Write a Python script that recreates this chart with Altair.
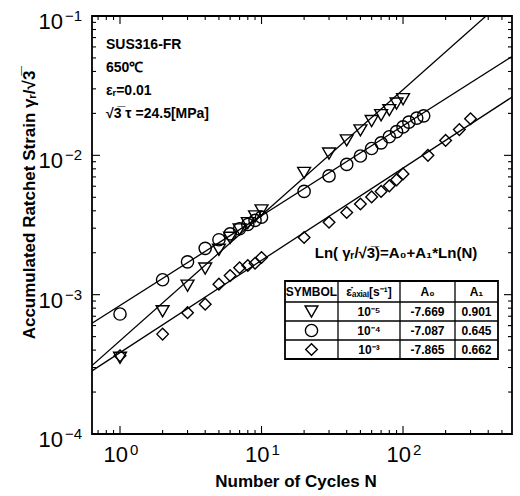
import math

import altair as alt
import pandas as pd

# ---- measured data: number of cycles N and accumulated ratchet strain ----
tri_N = [1, 2, 3, 4, 5, 6, 7, 8, 9, 10, 20, 30, 40, 50, 60, 70, 80, 90, 100]
tri_v = [3.52e-4, 7.60e-4, 1.16e-3, 1.54e-3, 2.10e-3, 2.56e-3, 2.94e-3, 3.26e-3,
         3.64e-3, 4.02e-3, 7.48e-3, 1.03e-2, 1.28e-2, 1.51e-2, 1.76e-2, 1.94e-2,
         2.11e-2, 2.35e-2, 2.53e-2]

cir_N = [1, 2, 3, 4, 5, 6, 7, 8, 9, 10, 20, 30, 40, 50, 60, 70, 80, 90, 100, 110, 125, 140]
cir_v = [7.26e-4, 1.28e-3, 1.72e-3, 2.15e-3, 2.48e-3, 2.73e-3, 2.97e-3, 3.19e-3,
         3.41e-3, 3.60e-3, 5.51e-3, 7.12e-3, 8.61e-3, 9.89e-3, 1.12e-2, 1.23e-2,
         1.36e-2, 1.48e-2, 1.60e-2, 1.73e-2, 1.85e-2, 1.92e-2]

dia_N = [1, 2, 3, 4, 5, 6, 7, 8, 9, 10, 20, 30, 40, 50, 60, 70, 80, 90, 100, 150, 200, 250, 300]
dia_v = [3.64e-4, 5.21e-4, 7.43e-4, 8.55e-4, 1.19e-3, 1.37e-3, 1.56e-3, 1.62e-3,
         1.68e-3, 1.85e-3, 2.57e-3, 3.31e-3, 3.89e-3, 4.47e-3, 5.03e-3, 5.51e-3,
         6.04e-3, 6.67e-3, 7.36e-3, 1.00e-2, 1.28e-2, 1.53e-2, 1.83e-2]

# ---- regression table: Ln(g/sqrt3) = A0 + A1*Ln(N) ----
series_keys = ["tri", "cir", "dia"]
rate_labels = ["10⁻⁵", "10⁻⁴", "10⁻³"]
fit_A0 = [-7.669, -7.087, -7.865]
fit_A1 = [0.901, 0.645, 0.662]
table_header = ["SYMBOL", "ε̇ₐₓᵢₐₗ[s⁻¹]", "A₀", "A₁"]

# ---- axis ticks and labels ----
x_major = [1, 10, 100]
x_exp = ["0", "1", "2"]
x_minor = [0.7, 0.8, 0.9, 2, 3, 4, 5, 6, 7, 8, 9,
           20, 30, 40, 50, 60, 70, 80, 90, 200, 300, 400, 500]
y_major = [1e-1, 1e-2, 1e-3, 1e-4]
y_exp = ["−1", "−2", "−3", "−4"]
y_minor = [2e-4, 3e-4, 4e-4, 5e-4, 6e-4, 7e-4, 8e-4, 9e-4,
           2e-3, 3e-3, 4e-3, 5e-3, 6e-3, 7e-3, 8e-3, 9e-3,
           2e-2, 3e-2, 4e-2, 5e-2, 6e-2, 7e-2, 8e-2, 9e-2]
x_title = "Number of Cycles  N"
y_title = "Accumulated Ratchet Strain  γᵣ/√3̅"

# ---- annotation text ----
cond_lines = ["SUS316-FR", "650℃", "εᵣ=0.01", "√3̅ τ =24.5[MPa]"]
equation = "Ln( γᵣ/√3̅)=A₀+A₁*Ln(N)"

# ---- layout ----
W, H = 420, 418
FONT = "Liberation Sans"
X_LO, X_HI = 0.634, 589
shapes = ["triangle-down", "circle", "diamond"]
sizes = [165, 135, 190]
tbl_cols = [193, 246, 308, 363, 406]
tbl_rows = [265, 286, 305, 324, 343]

xs = alt.Scale(type="log", domain=[X_LO, X_HI], nice=False)
ys = alt.Scale(type="log", domain=[1e-4, 0.1], nice=False)
shape_enc = alt.Shape("s:N", scale=alt.Scale(domain=series_keys, range=shapes), legend=None)
size_enc = alt.Size("s:N", scale=alt.Scale(domain=series_keys, range=sizes), legend=None)


def px(field):
    return alt.X(field, scale=None, axis=None)


def py(field):
    return alt.Y(field, scale=None, axis=None)


pts = pd.concat([
    pd.DataFrame({"N": tri_N, "v": tri_v, "s": "tri"}),
    pd.DataFrame({"N": cir_N, "v": cir_v, "s": "cir"}),
    pd.DataFrame({"N": dia_N, "v": dia_v, "s": "dia"}),
], ignore_index=True)

# fitted power laws evaluated at both ends of the N axis
fit_rows = []
for key, a0, a1 in zip(series_keys, fit_A0, fit_A1):
    for n in (X_LO, X_HI):
        fit_rows.append({"N": n, "v": math.exp(a0 + a1 * math.log(n)), "s": key})
fit = pd.DataFrame(fit_rows)

lines = alt.Chart(fit).mark_line(color="black", strokeWidth=1.3, clip=True).encode(
    x=alt.X("N:Q", scale=xs, axis=None),
    y=alt.Y("v:Q", scale=ys, axis=None),
    detail="s:N",
)

points = alt.Chart(pts).mark_point(filled=False, color="black", strokeWidth=1.4,
                                   opacity=1).encode(
    x=alt.X("N:Q", scale=xs, axis=None),
    y=alt.Y("v:Q", scale=ys, axis=None),
    shape=shape_enc,
    size=size_enc,
)


def ticks(vals, side, length):
    base = alt.Chart(pd.DataFrame({"t": vals})).mark_rule(color="black", strokeWidth=1.1)
    if side in ("bottom", "top"):
        y0 = H if side == "bottom" else 0
        y1 = H - length if side == "bottom" else length
        return base.encode(x=alt.X("t:Q", scale=xs, axis=None),
                           y=alt.value(y0), y2=alt.value(y1))
    x0 = 0 if side == "left" else W
    x1 = length if side == "left" else W - length
    return base.encode(y=alt.Y("t:Q", scale=ys, axis=None),
                       x=alt.value(x0), x2=alt.value(x1))


tick_layers = []
for side in ("bottom", "top"):
    tick_layers += [ticks(x_major, side, 8), ticks(x_minor, side, 4)]
for side in ("left", "right"):
    tick_layers += [ticks(y_major, side, 8), ticks(y_minor, side, 4)]

# decade labels: "10" plus a raised exponent
x_lab = pd.DataFrame({"t": x_major, "e": x_exp, "b": "10"})
x_base = alt.Chart(x_lab).mark_text(
    align="right", baseline="top", font=FONT, fontSize=22, dx=8, color="black"
).encode(x=alt.X("t:Q", scale=xs, axis=None), y=alt.value(H + 11), text="b:N")
x_sup = alt.Chart(x_lab).mark_text(
    align="left", baseline="top", font=FONT, fontSize=15, dx=10, color="black"
).encode(x=alt.X("t:Q", scale=xs, axis=None), y=alt.value(H + 9), text="e:N")

y_lab = pd.DataFrame({"t": y_major, "e": y_exp, "b": "10"})
y_base = alt.Chart(y_lab).mark_text(
    align="right", baseline="middle", font=FONT, fontSize=22, dy=6, color="black"
).encode(y=alt.Y("t:Q", scale=ys, axis=None), x=alt.value(-29), text="b:N")
y_sup = alt.Chart(y_lab).mark_text(
    align="left", baseline="middle", font=FONT, fontSize=15, dy=0, color="black"
).encode(y=alt.Y("t:Q", scale=ys, axis=None), x=alt.value(-27), text="e:N")

titles = alt.Chart(pd.DataFrame({
    "txt": [x_title], "px": [204], "py": [466],
})).mark_text(align="center", baseline="middle", font=FONT, fontSize=17,
              fontWeight="bold", color="black").encode(
    x=px("px:Q"), y=py("py:Q"), text="txt:N")
ytitle = alt.Chart(pd.DataFrame({
    "txt": [y_title], "px": [-62], "py": [189],
})).mark_text(align="center", baseline="middle", font=FONT, fontSize=17,
              fontWeight="bold", color="black", angle=270).encode(
    x=px("px:Q"), y=py("py:Q"), text="txt:N")

cond = alt.Chart(pd.DataFrame({
    "txt": cond_lines, "px": [14] * 4, "py": [29, 52, 75, 98],
})).mark_text(align="left", baseline="middle", font=FONT, fontSize=14,
              fontWeight="bold", color="black").encode(
    x=px("px:Q"), y=py("py:Q"), text="txt:N")

eq = alt.Chart(pd.DataFrame({"txt": [equation], "px": [304], "py": [237]})).mark_text(
    align="center", baseline="middle", font=FONT, fontSize=15, fontWeight="bold",
    color="black").encode(x=px("px:Q"), y=py("py:Q"), text="txt:N")

# ---- regression table ----
tbl_box = alt.Chart(pd.DataFrame({
    "x0": [tbl_cols[0]], "x1": [tbl_cols[-1]], "y0": [tbl_rows[0]], "y1": [tbl_rows[-1]],
})).mark_rect(fill="white", stroke="black", strokeWidth=1.8).encode(
    x=px("x0:Q"), x2="x1:Q", y=py("y0:Q"), y2="y1:Q")

segs = []
for cx in tbl_cols[1:-1]:
    segs.append({"x0": cx, "x1": cx, "y0": tbl_rows[0], "y1": tbl_rows[-1]})
for ry in tbl_rows[1:-1]:
    segs.append({"x0": tbl_cols[0], "x1": tbl_cols[-1], "y0": ry, "y1": ry})
tbl_grid = alt.Chart(pd.DataFrame(segs)).mark_rule(color="black", strokeWidth=1.3).encode(
    x=px("x0:Q"), x2="x1:Q", y=py("y0:Q"), y2="y1:Q")

col_c = [(a + b) / 2 for a, b in zip(tbl_cols[:-1], tbl_cols[1:])]
row_c = [(a + b) / 2 for a, b in zip(tbl_rows[:-1], tbl_rows[1:])]
cells = [{"txt": h, "px": col_c[i], "py": row_c[0]} for i, h in enumerate(table_header)]
for r, (rate, a0, a1) in enumerate(zip(rate_labels, fit_A0, fit_A1), start=1):
    cells += [
        {"txt": rate, "px": col_c[1], "py": row_c[r]},
        {"txt": f"{a0:.3f}", "px": col_c[2], "py": row_c[r]},
        {"txt": f"{a1:.3f}", "px": col_c[3], "py": row_c[r]},
    ]
tbl_text = alt.Chart(pd.DataFrame(cells)).mark_text(
    align="center", baseline="middle", font=FONT, fontSize=12, fontWeight="bold",
    color="black").encode(x=px("px:Q"), y=py("py:Q"), text="txt:N")

tbl_sym = alt.Chart(pd.DataFrame({
    "s": series_keys, "px": [col_c[0]] * 3, "py": row_c[1:],
})).mark_point(filled=False, color="black", strokeWidth=1.4, opacity=1).encode(
    x=px("px:Q"), y=py("py:Q"), shape=shape_enc, size=size_enc)

chart = alt.layer(
    lines, points, *tick_layers, x_base, x_sup, y_base, y_sup, titles, ytitle,
    cond, eq, tbl_box, tbl_grid, tbl_text, tbl_sym,
).properties(
    width=W, height=H,
    autosize=alt.AutoSizeParams(type="none"),
    padding={"left": 92, "top": 16, "right": 8, "bottom": 62},
    background="white",
).configure_view(stroke="black", strokeWidth=1.8)

chart.save("out.html", embed_options={"renderer": "svg", "actions": False})
